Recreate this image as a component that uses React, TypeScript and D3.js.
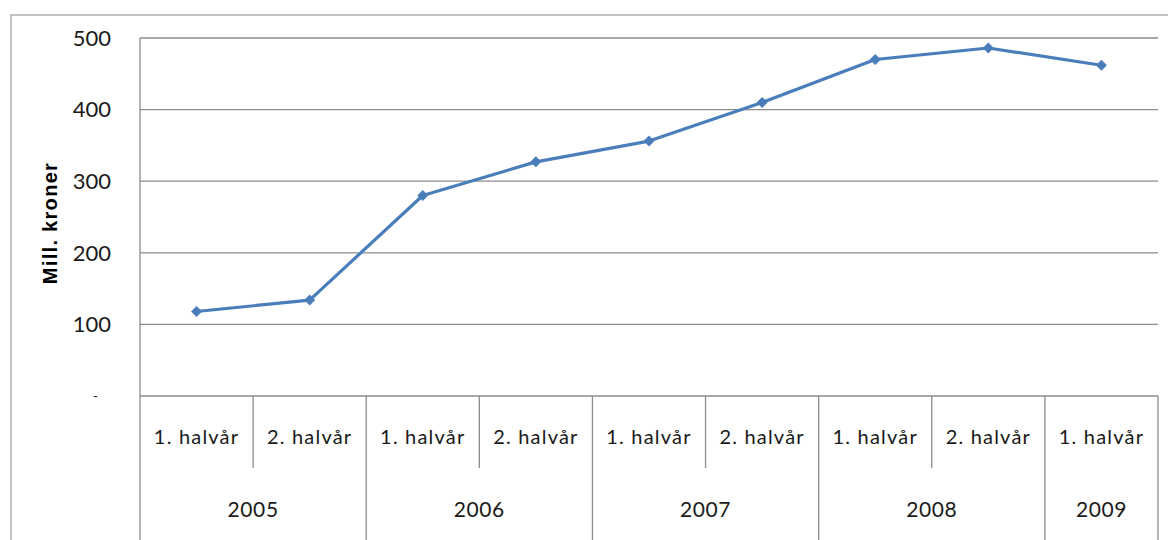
import React from "react";
import * as d3 from "d3";

const halves = ["1. halvår", "2. halvår", "1. halvår", "2. halvår", "1. halvår", "2. halvår", "1. halvår", "2. halvår", "1. halvår"];
const yearOfPoint = ["2005", "2005", "2006", "2006", "2007", "2007", "2008", "2008", "2009"];
const years = ["2005", "2006", "2007", "2008", "2009"];
const values = [118, 134, 280, 327, 356, 410, 470, 486, 462];
const yTicks = [0, 100, 200, 300, 400, 500];
const yTickLabels = ["-", "100", "200", "300", "400", "500"];
const yTitle = "Mill. kroner";

export default function App() {
  const W = 1168, H = 540;
  const left = 140, right = 1158, top = 38, bottom = 396;
  const x = d3.scaleBand<number>().domain(d3.range(values.length)).range([left, right]).padding(0);
  const y = d3.scaleLinear().domain([0, 500]).range([bottom, top]);
  const line = d3.line<number>().x((_, i) => x(i)! + x.bandwidth() / 2).y((d) => y(d));
  const grid = "#8c8c8c";
  const font = "Lato, 'Open Sans', sans-serif";
  const blue = "#4a7ebb";
  const txt = "#1a1a1a";

  const groups = years.map((yr) => {
    const idx = yearOfPoint.map((v, i) => (v === yr ? i : -1)).filter((i) => i >= 0);
    const x0 = x(idx[0])!;
    const x1 = x(idx[idx.length - 1])! + x.bandwidth();
    return { yr, x0, x1, idx };
  });

  return (
    <svg width={W} height={H} style={{ position: "absolute", left: 0, top: 0, background: "#fff" }}>
      <rect x={11} y={15} width={W} height={H} fill="#fff" stroke="#a0a0a0" strokeWidth={1.3} />
      {yTicks.map((t, i) => (
        <g key={t}>
          <line x1={left} x2={right} y1={y(t)} y2={y(t)} stroke={grid} strokeWidth={1.3} />
          <text
            x={t === 0 ? 98 : 111}
            y={y(t)}
            dy="0.35em"
            textAnchor="end"
            fontFamily={font}
            fontSize={t === 0 ? 14 : 22}
            fill={txt}
          >
            {yTickLabels[i]}
          </text>
        </g>
      ))}
      <line x1={left} x2={left} y1={top} y2={H} stroke={grid} strokeWidth={1.3} />
      {groups.map((g) => (
        <g key={g.yr}>
          <line x1={g.x1} x2={g.x1} y1={bottom} y2={H} stroke={grid} strokeWidth={1.3} />
          {g.idx.slice(0, -1).map((i) => (
            <line key={i} x1={x(i)! + x.bandwidth()} x2={x(i)! + x.bandwidth()} y1={bottom} y2={468} stroke={grid} strokeWidth={1.3} />
          ))}
          <text x={(g.x0 + g.x1) / 2} y={510} dy="0.35em" textAnchor="middle" fontFamily={font} fontSize={21} letterSpacing={0.6} fill={txt}>
            {g.yr}
          </text>
        </g>
      ))}
      {halves.map((h, i) => (
        <text key={i} x={x(i)! + x.bandwidth() / 2} y={437} dy="0.35em" textAnchor="middle" fontFamily={font} fontSize={20} letterSpacing={1.2} fill={txt}>
          {h}
        </text>
      ))}
      <text
        transform={`translate(50, 223) rotate(-90)`}
        textAnchor="middle"
        dy="0.35em"
        fontFamily="'Liberation Sans', Arial, sans-serif"
        fontWeight="bold"
        fontSize={20}
        letterSpacing={1.3}
        fill="#000"
      >
        {yTitle}
      </text>
      <path d={line(values)!} fill="none" stroke={blue} strokeWidth={3.2} strokeLinejoin="round" />
      {values.map((v, i) => {
        const cx = x(i)! + x.bandwidth() / 2;
        const cy = y(v);
        const s = 5.5;
        return <path key={i} d={`M${cx},${cy - s}L${cx + s},${cy}L${cx},${cy + s}L${cx - s},${cy}Z`} fill={blue} />;
      })}
    </svg>
  );
}
